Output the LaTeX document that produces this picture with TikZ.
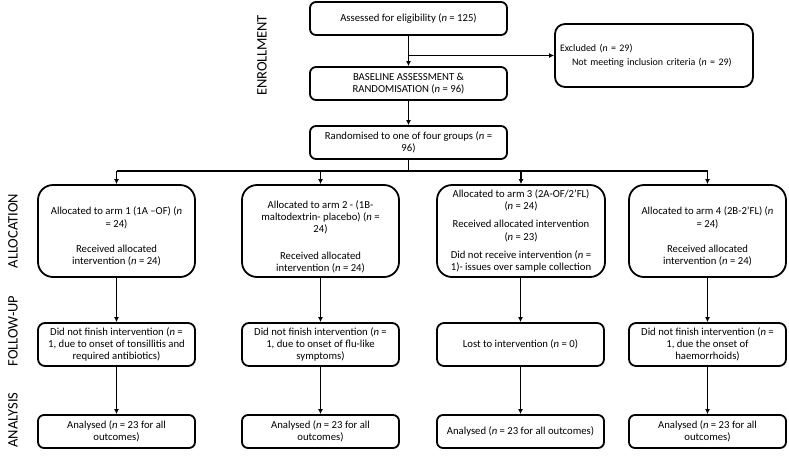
\documentclass[tikz,border=0pt]{standalone}
\usepackage{fontspec}
\setmainfont{Carlito}
\usetikzlibrary{arrows.meta}

\begin{document}
\begin{tikzpicture}[x=1pt, y=-1pt, line width=1.8pt, >={Latex[length=5pt,width=5pt]},
    every node/.style={font=\fontsize{10.7}{12.3}\selectfont, align=center, inner sep=0pt},
    smallbox/.style={draw, rounded corners=6pt, minimum height=33pt},
    armbox/.style={draw, rounded corners=15pt, minimum height=92pt},
    fubox/.style={draw, rounded corners=7pt, minimum height=43pt},
    phase/.style={rotate=90, font=\fontsize{14.5}{16}\selectfont}]
    \useasboundingbox (0,0) rectangle (789,459);
    % phase labels
    \node[phase] (lenrol) at (262,55.5) {ENROLL\kern-1pt MENT};
    \node[phase] (lalloc) at (13,231) {ALLOCATION};
    \node[phase] (lfollow) at (13,331) {FOLLOW-UP};
    \node[phase] (lanal) at (13,420) {ANALYSIS};
    % enrolment
    \node[smallbox, minimum width=197pt] (assess) at (408.5,18.5) {Assessed for eligibility (\textit{n} = 125)};
    \node[smallbox, minimum width=197pt] (base) at (408.5,83.5) {BASELINE ASSESSMENT \&\\RANDOMISATION (\textit{n} = 96)};
    \node[draw, rounded corners=10pt, minimum height=63pt, text width=188pt, inner xsep=5pt, align=left,
        font=\fontsize{10}{14}\selectfont] (excl) at (654,55.5)
        {Excluded (\textit{n} = 29)\\\hspace*{12pt}Not meeting inclusion criteria (\textit{n} = 29)};
    \node[smallbox, minimum width=197pt] (rand) at (408.5,142.5) {Randomised to one of four groups (\textit{n} =\\96)};
    % allocation
    \node[armbox, minimum width=157pt] (arm1) at (116.5,231)
        {\mbox{}\\[7pt]Allocated to arm 1 (1A --OF) (\textit{n}\\= 24)\\[13pt]Received allocated\\intervention (\textit{n} = 24)};
    \node[armbox, minimum width=157pt] (arm2) at (320.5,231)
        {\mbox{}\\[7pt]Allocated to arm 2 - (1B-\\maltodextrin- placebo) (\textit{n} =\\24)\\[14pt]Received allocated\\intervention (\textit{n} = 24)};
    \node[armbox, minimum width=168pt] (arm3) at (521,231)
        {Allocated to arm 3 (2A-OF/2’FL)\\(\textit{n} = 24)\\[6pt]Received allocated intervention\\(\textit{n} = 23)\\[6pt]Did not receive intervention (\textit{n} =\\1)- issues over sample collection};
    \node[armbox, minimum width=157pt] (arm4) at (707.5,231)
        {\mbox{}\\[7pt]Allocated to arm 4 (2B-2’FL) (\textit{n}\\= 24)\\[13pt]Received allocated\\intervention (\textit{n} = 24)};
    % follow-up
    \node[fubox, minimum width=157pt] (fu1) at (116.5,344.5)
        {Did not finish intervention (\textit{n} =\\1, due to onset of tonsillitis and\\required antibiotics)};
    \node[fubox, minimum width=157pt] (fu2) at (320.5,344.5)
        {Did not finish intervention (\textit{n} =\\1, due to onset of flu-like\\symptoms)};
    \node[fubox, minimum width=167pt] (fu3) at (520.5,344.5) {Lost to intervention (\textit{n} = 0)};
    \node[fubox, minimum width=157pt] (fu4) at (707.5,344.5)
        {Did not finish intervention (\textit{n} =\\1, due the onset of\\haemorrhoids)};
    % analysis
    \node[smallbox, minimum width=157pt] (an1) at (116.5,431.5) {Analysed (\textit{n} = 23 for all\\outcomes)};
    \node[smallbox, minimum width=157pt] (an2) at (320.5,431.5) {Analysed (\textit{n} = 23 for all\\outcomes)};
    \node[smallbox, minimum width=167pt] (an3) at (520.5,431.5) {Analysed (\textit{n} = 23 for all outcomes)};
    \node[smallbox, minimum width=157pt] (an4) at (707.5,431.5) {Analysed (\textit{n} = 23 for all\\outcomes)};
    % connectors
    \draw[->] (assess) -- (base);
    \draw[->] (assess.south |- excl.west) -- (excl.west);
    \draw[->] (base) -- (rand);
    \coordinate (split) at (408.5,171);
    \draw (rand) -- (split);
    \draw (arm1.north |- split) -- (arm4.north |- split);
    \draw[->] (arm1.north |- split) -- (arm1.north);
    \draw[->] (arm2.north |- split) -- (arm2.north);
    \draw[->] (arm3.north |- split) -- (arm3.north);
    \draw[->] (arm4.north |- split) -- (arm4.north);
    \draw[->] (arm1) -- (fu1);
    \draw[->] (arm2) -- (fu2);
    \draw[->] (arm3.south -| fu3) -- (fu3);
    \draw[->] (arm4) -- (fu4);
    \draw[->] (fu1) -- (an1);
    \draw[->] (fu2) -- (an2);
    \draw[->] (fu3) -- (an3);
    \draw[->] (fu4) -- (an4);
\end{tikzpicture}
\end{document}
